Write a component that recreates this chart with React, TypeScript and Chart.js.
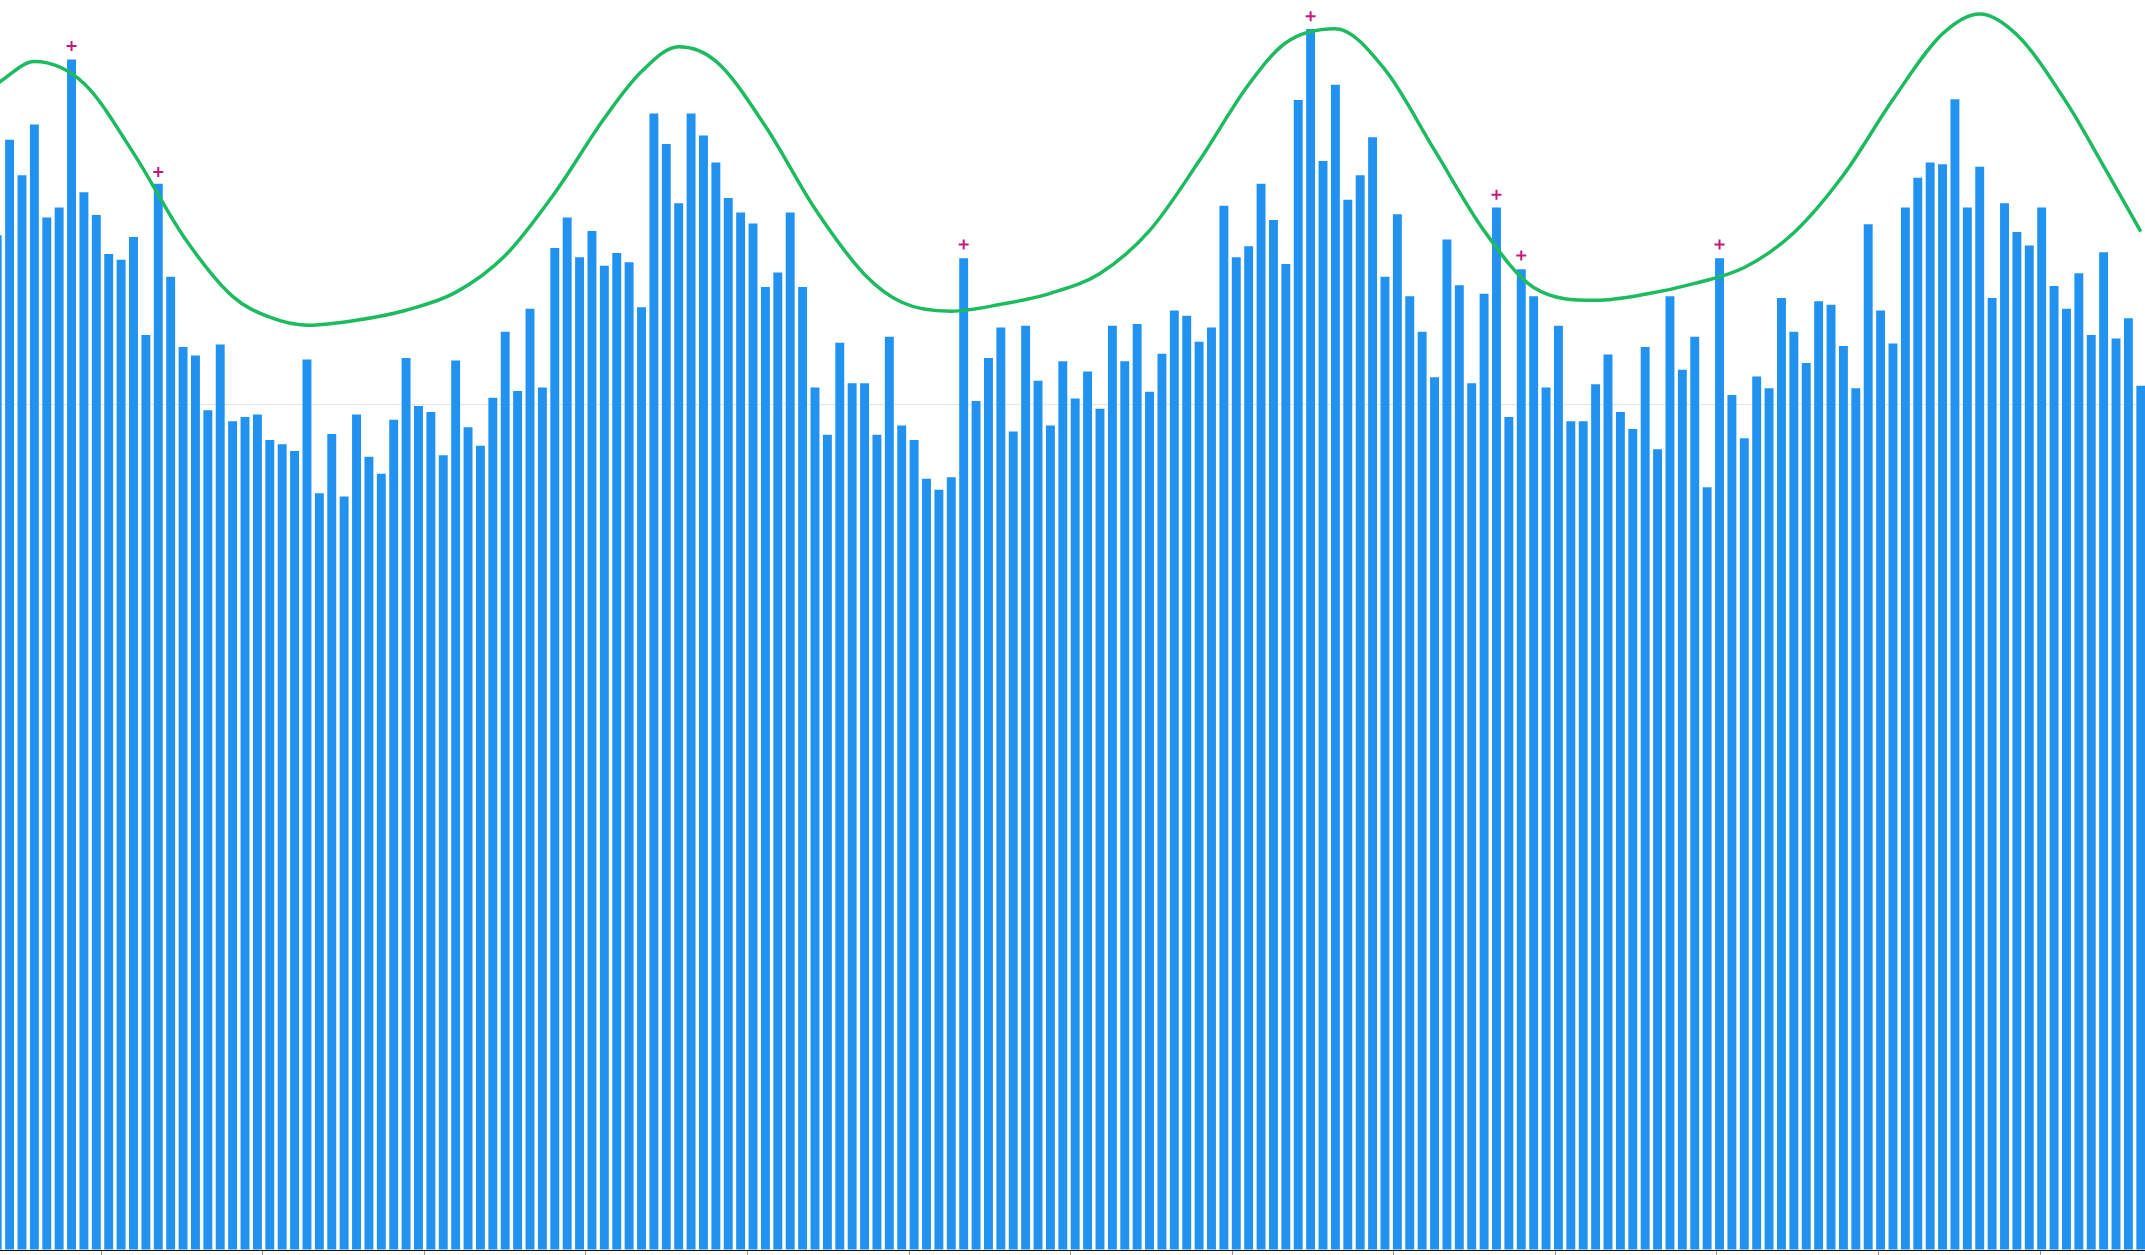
import React, { useEffect, useRef } from 'react';
import { Chart, registerables } from 'chart.js';

Chart.register(...registerables);

const categories: string[] = Array.from({ length: 174 }, (_, i) => String(i + 1));

const barValues: number[] = [
  120.0, 131.3, 127.1, 133.1, 122.1, 123.3, 140.8, 125.1, 122.4, 117.8,
  117.1, 119.8, 108.2, 126.1, 115.1, 106.8, 105.8, 99.3, 107.1, 98.0,
  98.5, 98.8, 95.8, 95.3, 94.5, 105.3, 89.5, 96.5, 89.1, 98.8,
  93.8, 91.8, 98.2, 105.5, 99.8, 99.1, 94.0, 105.2, 97.3, 95.1,
  100.8, 108.6, 101.6, 111.3, 102.0, 118.5, 122.1, 117.4, 120.5, 116.4,
  117.9, 116.8, 111.5, 134.4, 130.8, 123.8, 134.4, 131.8, 128.6, 124.4,
  122.7, 121.4, 113.9, 115.6, 122.7, 113.9, 102.0, 96.4, 107.3, 102.5,
  102.5, 96.4, 108.0, 97.5, 95.8, 91.2, 89.9, 91.4, 117.3, 100.4,
  105.5, 109.1, 96.8, 109.3, 102.8, 97.5, 105.1, 100.7, 103.9, 99.5,
  109.3, 105.1, 109.5, 101.5, 106.0, 111.1, 110.5, 107.4, 109.1, 123.5,
  117.4, 118.7, 126.1, 121.8, 116.6, 136.0, 144.4, 128.8, 137.8, 124.2,
  127.1, 131.6, 115.1, 122.5, 112.8, 108.6, 103.2, 119.5, 114.1, 102.5,
  113.1, 123.3, 98.5, 116.0, 112.8, 102.0, 109.3, 98.0, 98.0, 102.4,
  105.9, 99.1, 97.1, 106.8, 94.7, 112.8, 104.1, 108.0, 90.2, 117.3,
  101.1, 96.0, 103.3, 101.9, 112.6, 108.6, 104.9, 112.2, 111.8, 106.9,
  101.9, 121.3, 111.1, 107.2, 123.3, 126.8, 128.6, 128.4, 136.1, 123.3,
  128.1, 112.6, 123.8, 120.4, 118.8, 123.3, 114.0, 111.3, 115.5, 108.2,
  118.0, 107.8, 110.2, 102.2,
];

const trendAt: number[] = [
  0, 3, 7, 11, 15, 19, 22, 25, 29, 33, 37, 41, 45, 49, 52, 55, 58, 62, 66, 70, 73, 77,
  81, 85, 89, 93, 97, 101, 104, 108, 112, 116, 120, 124, 129, 133, 137, 141, 145, 149,
  153, 157, 160, 163, 167, 170, 173,
];
const trendValues: number[] = [
  137.95, 140.54, 137.95, 129.72, 119.96, 112.78, 110.31, 109.37, 109.96, 111.14,
  113.25, 117.61, 125.01, 133.84, 139.36, 142.3, 140.6, 132.9, 123.13, 115.37,
  112.08, 111.02, 111.84, 113.14, 115.49, 120.55, 128.78, 137.83, 142.77, 144.42,
  139.6, 130.07, 120.55, 113.84, 112.31, 113.02, 114.31, 116.19, 120.31, 127.13,
  136.07, 143.83, 146.18, 143.71, 135.72, 128.19, 120.43,
];

const peakAt: number[] = [6, 13, 78, 106, 121, 123, 139];
const peakValues: number[] = [142.4, 127.5, 118.9, 145.9, 124.8, 117.6, 118.9];

const xTickAt: number[] = [
  8.39, 21.43, 34.47, 47.51, 60.55, 73.59, 86.63, 99.67, 112.71, 125.75, 138.79, 151.83, 164.87,
];
const yTicks: number[] = [0, 100];

export default function App() {
  const ref = useRef<HTMLCanvasElement>(null);

  useEffect(() => {
    if (!ref.current) return;
    const trend: (number | null)[] = categories.map(() => null);
    trendAt.forEach((k, i) => {
      trend[k] = trendValues[i];
    });
    const peaks: (number | null)[] = categories.map(() => null);
    peakAt.forEach((k, i) => {
      peaks[k] = peakValues[i];
    });

    const chart = new Chart(ref.current, {
      type: 'bar',
      data: {
        labels: categories,
        datasets: [
          {
            type: 'line',
            data: trend,
            borderColor: '#1dbb5f',
            borderWidth: 3.5,
            pointRadius: 0,
            tension: 0.4,
            cubicInterpolationMode: 'monotone',
            spanGaps: true,
            fill: false,
            order: 0,
          } as any,
          {
            type: 'line',
            data: peaks,
            showLine: false,
            pointStyle: 'cross',
            pointRadius: 5,
            borderColor: '#c2187a',
            backgroundColor: '#c2187a',
            borderWidth: 2,
            order: 1,
          } as any,
          {
            type: 'bar',
            data: barValues,
            backgroundColor: '#2192f0',
            order: 2,
          } as any,
        ],
      },
      options: {
        animation: false,
        responsive: true,
        maintainAspectRatio: false,
        layout: { padding: 0 },
        plugins: {
          legend: { display: false },
          tooltip: { enabled: false },
        },
        scales: {
          x: {
            offset: true,
            grid: { drawOnChartArea: false, tickColor: '#999999', offset: false, tickLength: 8 },
            border: { color: '#111111', width: 1 },
            ticks: { display: false, callback: () => ' ' },
            afterBuildTicks: (s: any) => {
              s.ticks = xTickAt.map((v) => ({ value: v }));
            },
            afterFit: (s: any) => {
              s.height = 40;
            },
          },
          y: {
            min: 0,
            max: 147,
            ticks: { display: false, includeBounds: false, callback: () => ' ' },
            afterBuildTicks: (s: any) => {
              s.ticks = yTicks.map((v) => ({ value: v }));
            },
            grid: { drawTicks: false, color: 'rgba(0,0,0,0.1)' },
            border: { display: false },
            afterFit: (s: any) => {
              s.width = 50;
            },
          },
        },
      } as any,
    });
    return () => chart.destroy();
  }, []);

  return (
    <div
      style={{
        position: 'fixed',
        left: 0,
        top: 0,
        width: 2145,
        height: 1255,
        overflow: 'hidden',
        background: '#ffffff',
      }}
    >
      <div style={{ position: 'absolute', left: -59, top: 0, width: 2213, height: 1290 }}>
        <canvas ref={ref} />
      </div>
    </div>
  );
}
